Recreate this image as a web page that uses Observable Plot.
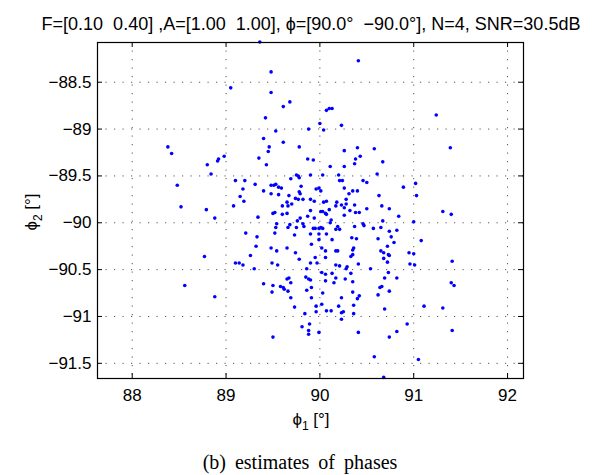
<!DOCTYPE html>
<html><head><meta charset="utf-8">
<script src="https://cdn.jsdelivr.net/npm/d3@7"></script>
<script src="https://cdn.jsdelivr.net/npm/@observablehq/plot@0.6"></script>
<style>html,body{margin:0;padding:0;background:#fff}</style>
</head><body><div id="chart"></div>
<script>
// Estimates of phases: [phi1 (deg), phi2 (deg)]
const phiEstimates = [
[89.05,-88.56],[88.38,-89.19],[88.42,-89.26],[88.80,-89.38],[88.91,-89.34],[88.92,-89.32],[88.98,-89.29],[88.84,-89.48],
[88.48,-89.60],[89.10,-89.55],[89.18,-89.64],[89.15,-89.72],[89.19,-89.77],[89.08,-89.82],[88.52,-89.83],[88.79,-89.86],
[89.36,-88.07],[90.41,-88.27],[89.48,-88.39],[89.48,-88.61],[89.68,-88.71],[89.61,-88.76],[89.42,-88.88],[90.07,-88.80],
[90.10,-88.78],[90.13,-88.78],[90.00,-88.94],[89.88,-89.00],[90.04,-89.01],[90.23,-88.96],[89.53,-89.02],[89.40,-89.10],
[89.61,-89.14],[89.46,-89.19],[89.45,-89.24],[89.78,-89.19],[90.26,-89.23],[90.40,-89.20],[90.58,-89.21],[89.35,-89.31],
[89.87,-89.32],[89.93,-89.33],[90.43,-89.29],[90.38,-89.32],[89.43,-89.38],[90.11,-89.40],[90.26,-89.40],[90.37,-89.37],
[90.67,-89.35],[90.61,-89.48],[89.20,-89.55],[89.31,-89.59],[89.75,-89.49],[89.77,-89.50],[89.90,-89.49],[90.03,-89.49],
[89.69,-89.53],[89.78,-89.52],[90.20,-89.49],[90.21,-89.55],[90.24,-89.55],[90.46,-89.55],[90.50,-89.57],[89.48,-89.60],
[89.51,-89.60],[89.53,-89.59],[89.56,-89.62],[89.59,-89.63],[89.80,-89.61],[89.96,-89.64],[89.99,-89.63],[89.40,-89.66],
[89.48,-89.69],[89.78,-89.67],[89.79,-89.69],[90.01,-89.66],[90.26,-89.63],[90.35,-89.66],[90.40,-89.66],[90.31,-89.69],
[89.56,-89.70],[89.67,-89.71],[89.74,-89.74],[89.77,-89.75],[89.82,-89.75],[89.90,-89.75],[90.28,-89.75],[90.63,-89.71],
[89.65,-89.78],[89.60,-89.82],[89.66,-89.82],[89.70,-89.80],[89.94,-89.77],[90.04,-89.78],[90.07,-89.77],[90.18,-89.78],
[90.23,-89.81],[90.28,-89.80],[90.37,-89.81],[90.26,-89.84],[90.50,-89.85],[90.66,-89.82],[90.74,-89.85],[90.17,-89.82],
[91.24,-88.85],[91.39,-89.20],[90.89,-89.62],[91.02,-89.58],[91.03,-89.71],
[88.88,-89.95],[88.77,-90.36],[89.10,-90.43],[89.14,-90.43],[88.56,-90.67],[88.88,-90.79],
[89.50,-89.90],[89.52,-89.89],[89.60,-89.91],[89.65,-89.90],[89.90,-89.87],[90.01,-89.88],[90.03,-89.88],[90.06,-89.90],
[90.07,-89.91],[90.10,-89.86],[90.26,-89.92],[90.32,-89.87],[90.38,-89.89],[90.42,-89.89],[89.34,-89.94],[89.79,-89.95],
[89.76,-89.98],[89.87,-89.93],[89.94,-89.95],[90.12,-89.97],[90.11,-90.00],[89.54,-90.01],[89.53,-90.05],[89.68,-90.02],
[89.66,-90.05],[89.75,-90.05],[89.82,-90.01],[89.83,-90.04],[89.93,-90.06],[89.95,-90.06],[89.99,-90.06],[90.01,-90.05],
[90.03,-90.06],[90.19,-90.04],[90.17,-90.07],[90.21,-90.07],[90.37,-90.04],[90.46,-90.01],[90.47,-90.03],[90.57,-90.06],
[90.67,-89.98],[90.74,-90.09],[90.65,-90.05],[89.21,-90.11],[89.52,-90.11],[89.73,-90.13],[89.90,-90.12],[89.99,-90.12],
[90.07,-90.12],[90.13,-90.18],[89.99,-90.18],[90.34,-90.16],[90.39,-90.17],[90.62,-90.17],[89.33,-90.15],[89.32,-90.25],
[89.48,-90.27],[89.54,-90.30],[89.65,-90.27],[89.74,-90.32],[89.91,-90.23],[90.02,-90.27],[90.06,-90.30],[90.17,-90.30],
[90.19,-90.30],[90.35,-90.29],[90.36,-90.27],[90.65,-90.30],[90.68,-90.32],[90.72,-90.25],[89.26,-90.35],[89.18,-90.45],
[89.78,-90.39],[89.95,-90.37],[90.06,-90.37],[90.33,-90.36],[90.35,-90.34],[90.73,-90.34],[90.74,-90.35],[90.68,-90.38],
[90.72,-90.42],[89.90,-90.43],[89.97,-90.43],[89.49,-90.43],[89.55,-90.45],[90.17,-90.45],[90.21,-90.46],[90.29,-90.47],
[90.28,-90.49],[90.41,-90.44],[89.30,-90.49],[89.86,-90.49],[90.54,-90.49],[90.73,-90.53],[90.02,-90.53],[90.06,-90.55],
[90.13,-90.54],[90.33,-90.54],[89.85,-90.58],[89.88,-90.60],[89.90,-90.61],[90.17,-90.59],[90.27,-90.60],[90.06,-90.62],
[90.15,-90.64],[89.65,-90.60],[89.67,-90.59],[90.35,-90.63],[90.69,-90.59],[89.40,-90.65],[89.50,-90.67],[89.91,-90.69],
[89.86,-90.72],[89.58,-90.68],[89.61,-90.69],[89.62,-90.71],[89.66,-90.73],[90.66,-90.68],[90.64,-90.69],[90.74,-90.73],
[89.49,-90.74],[90.03,-90.75],[90.35,-90.74],[90.42,-90.78],[90.40,-90.81],[90.62,-90.77],[89.69,-90.80],[89.91,-90.80],
[90.23,-90.80],[90.36,-90.88],[90.20,-90.89],[90.02,-90.87],[89.96,-90.89],[89.73,-90.90],[90.07,-90.94],[90.12,-90.94],
[90.25,-90.95],[90.23,-90.96],[90.36,-90.97],[89.96,-90.95],[89.84,-90.97],[90.69,-90.92],[90.23,-91.03],[89.89,-91.08],
[89.81,-91.11],[89.88,-91.15],[89.88,-91.19],[89.99,-91.17],[90.41,-91.17],[89.50,-91.22],[90.74,-91.22],[90.58,-91.43],
[90.68,-91.65],[89.69,-90.64],
[90.84,-89.93],[91.31,-89.88],[91.40,-89.91],[91.00,-89.99],[90.82,-90.08],[90.76,-90.15],[90.79,-90.21],[91.08,-90.19],
[90.95,-90.32],[91.00,-90.33],[90.96,-90.44],[91.01,-90.45],[91.41,-90.41],[90.82,-90.59],[91.40,-90.64],[91.43,-90.67],
[91.11,-90.89],[91.31,-90.91],[90.93,-91.08],[90.82,-91.16],[91.41,-91.15],[91.05,-91.46]
];
const xTicks = [88, 89, 90, 91, 92];
const yTicks = [-88.5, -89, -89.5, -90, -90.5, -91, -91.5];
const xDomain = [87.63, 92.17];
const yDomain = [-91.662, -88.076];
const titleText = "F=[0.10  0.40] ,A=[1.00  1.00], \u03D5=[90.0\u00B0  \u221290.0\u00B0], N=4, SNR=30.5dB";
const xLabel = ["\u03D5", "1", " [\u00B0]"];
const yLabel = ["\u03D5", "2", " [\u00B0]"];
const captionText = "(b) estimates of phases";

const W = 604, H = 475, mL = 97, mR = 81, mT = 42, mB = 97;
const innerW = W - mL - mR, innerH = H - mT - mB;
const tickLen = 5;
const fmt = d => String(d).replace("-", "\u2212");
const pts = phiEstimates.map(([a, b]) => ({a, b}));
const gridStyle = {stroke: "#555", strokeWidth: 1, strokeDasharray: "1.2,7.3"};

const svg = Plot.plot({
  width: W, height: H,
  marginLeft: mL, marginRight: mR, marginTop: mT, marginBottom: mB,
  style: {fontFamily: "'Liberation Sans', Arial, sans-serif", fontSize: "16px", color: "#000", background: "#fff", overflow: "visible"},
  x: {domain: xDomain},
  y: {domain: yDomain},
  marks: [
    Plot.ruleX(xTicks, {x: d => d, ...gridStyle}),
    Plot.ruleY(yTicks, {y: d => d, ...gridStyle}),
    Plot.dot(pts, {x: "a", y: "b", r: 1.8, fill: "#0000ff", stroke: "none"}),
    Plot.tickX(xTicks, {x: d => d, insetTop: innerH - tickLen, stroke: "#000"}),
    Plot.tickX(xTicks, {x: d => d, insetBottom: innerH - tickLen, stroke: "#000"}),
    Plot.tickY(yTicks, {y: d => d, insetRight: innerW - tickLen, stroke: "#000"}),
    Plot.tickY(yTicks, {y: d => d, insetLeft: innerW - tickLen, stroke: "#000"}),
    Plot.frame({stroke: "#000", strokeWidth: 1.2}),
    Plot.axisX({ticks: xTicks, tickSize: 0, tickPadding: 10, tickFormat: fmt, label: null, fontSize: 17}),
    Plot.axisY({ticks: yTicks, tickSize: 0, tickPadding: 6, tickFormat: fmt, label: null, fontSize: 17})
  ]
});
document.getElementById("chart").appendChild(svg);

const s = d3.select(svg);
s.append("text")
  .attr("x", 311).attr("y", 30)
  .attr("text-anchor", "middle")
  .attr("font-size", 18)
  .attr("fill", "#000")
  .style("white-space", "pre")
  .attr("xml:space", "preserve")
  .text(titleText);

function label(g, parts) {
  g.append("tspan").text(parts[0]);
  g.append("tspan").attr("font-size", 12).attr("dy", 5).text(parts[1]);
  g.append("tspan").attr("dy", -5).style("white-space", "pre").text(parts[2]);
}
const xl = s.append("text").attr("x", 311).attr("y", 425).attr("text-anchor", "middle").attr("font-size", 17).attr("fill", "#000");
label(xl, xLabel);
const yl = s.append("text").attr("transform", "translate(37,212) rotate(-90)").attr("text-anchor", "middle").attr("font-size", 17).attr("fill", "#000");
label(yl, yLabel);

s.append("text")
  .attr("x", 300).attr("y", 469)
  .attr("text-anchor", "middle")
  .attr("font-family", "'Liberation Serif', 'Times New Roman', serif")
  .attr("font-size", 20)
  .attr("word-spacing", 4)
  .attr("fill", "#000")
  .text(captionText);
</script>
</body></html>
